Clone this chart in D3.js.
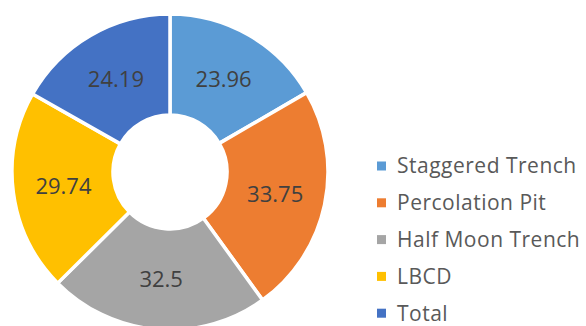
<!DOCTYPE html>
<html>
<head>
<meta charset="utf-8">
<script src="https://cdn.jsdelivr.net/npm/d3@7/dist/d3.min.js"></script>
<style>
  html, body { margin: 0; padding: 0; background: #fff; }
  svg { display: block; }
</style>
</head>
<body>
<svg id="chart" width="586" height="326"></svg>
<script>
// Donut chart of the five trench / pit types
const categories = ["Staggered Trench", "Percolation Pit", "Half Moon Trench", "LBCD", "Total"];
const values = [23.96, 33.75, 32.5, 29.74, 24.19];
const colors = ["#5B9BD5", "#ED7D31", "#A5A5A5", "#FFC000", "#4472C4"];

const svg = d3.select("#chart");
const cx = 170, cy = 172, outerR = 158, innerR = 57;
const fontFamily = "'Open Sans', 'Liberation Sans', sans-serif";

const data = categories.map((c, i) => ({ name: c, value: values[i], color: colors[i] }));

const pie = d3.pie().sort(null).value(d => d.value);
const arc = d3.arc().innerRadius(innerR).outerRadius(outerR);
const labelArc = d3.arc().innerRadius((innerR + outerR) / 2).outerRadius((innerR + outerR) / 2);

const g = svg.append("g").attr("transform", `translate(${cx},${cy})`);

g.selectAll("path.slice")
  .data(pie(data))
  .join("path")
  .attr("class", "slice")
  .attr("d", arc)
  .attr("fill", d => d.data.color)
  .attr("stroke", "#fff")
  .attr("stroke-width", 3.5)
  .attr("stroke-linejoin", "round");

g.selectAll("text.val")
  .data(pie(data))
  .join("text")
  .attr("class", "val")
  .attr("transform", d => `translate(${labelArc.centroid(d)})`)
  .attr("text-anchor", "middle")
  .attr("dy", "0.36em")
  .attr("font-family", fontFamily)
  .attr("font-size", 22)
  .attr("fill", "#404040")
  .text(d => d.data.value);

// Legend
const legendX = 377, legendY0 = 166, legendStep = 36.8;
const legend = svg.append("g");
const items = legend.selectAll("g.item")
  .data(data)
  .join("g")
  .attr("class", "item")
  .attr("transform", (d, i) => `translate(${legendX},${legendY0 + i * legendStep})`);

items.append("rect")
  .attr("x", 0).attr("y", -4.5)
  .attr("width", 9).attr("height", 9)
  .attr("fill", d => d.color);

items.append("text")
  .attr("x", 20)
  .attr("dy", "0.35em")
  .attr("font-family", fontFamily)
  .attr("font-size", 21)
  .attr("letter-spacing", 0.5)
  .attr("fill", "#595959")
  .text(d => d.name);
</script>
</body>
</html>
